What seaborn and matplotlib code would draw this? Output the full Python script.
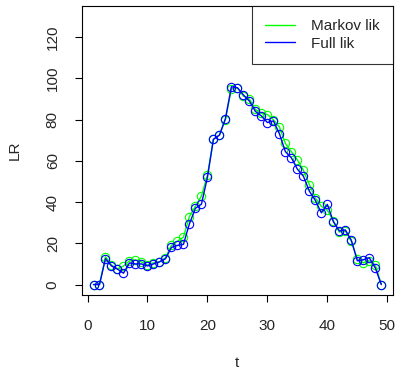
import numpy as np
import pandas as pd
import matplotlib
matplotlib.use("Agg")
import matplotlib.pyplot as plt
from matplotlib.lines import Line2D
import seaborn as sns

# time points
t = list(range(1, 50))

# likelihood ratio, Markov likelihood (green)
markov_lik = [0, 0, 13.5, 9.5, 7.5, 9, 11.5, 12, 11, 9.5,
              10.5, 11, 13, 19, 21, 23, 33, 38, 43, 53,
              70.5, 72.5, 80, 95, 95.5, 91.5, 90, 85, 83, 82.5,
              80, 76.5, 68.5, 64.5, 60.5, 55.5, 48.5, 42, 38, 36,
              31, 25.5, 26, 21, 12.5, 10.5, 11.5, 9.5, 0]

# likelihood ratio, full likelihood (blue)
full_lik = [0, 0, 12.6, 9, 7.5, 5.5, 10.5, 10, 10, 9,
            10, 11, 12.5, 18, 19, 19.5, 29.5, 37, 39, 52,
            70.5, 72.5, 80.5, 96, 95.5, 92, 89, 84, 81.8, 78.6,
            79.4, 73.2, 64.5, 61.5, 56, 52.6, 45.3, 40.8, 34.8, 38.9,
            30.5, 26, 26.5, 21.5, 11.5, 12, 13, 8, 0]

df = pd.DataFrame({"t": t, "markov": markov_lik, "full": full_lik})

sns.set_style("ticks")
plt.rcParams["font.family"] = ["Liberation Sans", "DejaVu Sans"]
plt.rcParams["font.size"] = 11

fig = plt.figure(figsize=(3.98, 3.70), dpi=100)
ax = fig.add_axes([0.206, 0.202, 0.781, 0.782])

for col, colour in [("markov", "#00FF00"), ("full", "#0000FF")]:
    sns.lineplot(data=df, x="t", y=col, color=colour, linewidth=1,
                 marker="o", markersize=6, markerfacecolor="none",
                 markeredgecolor=colour, markeredgewidth=0.8, ax=ax)

ax.set_xlim(-0.92, 50.92)
ax.set_ylim(-5.2, 135.2)
ax.set_xticks([0, 10, 20, 30, 40, 50])
ax.set_yticks([0, 20, 40, 60, 80, 100, 120])
ax.set_yticklabels([0, 20, 40, 60, 80, 100, 120], rotation=90, va="center")
ax.tick_params(axis="both", direction="out", length=5, width=0.8,
               labelsize=11, color="black")
ax.tick_params(axis="x", pad=12)
ax.tick_params(axis="y", pad=11)
for s in ax.spines.values():
    s.set_visible(True)
    s.set_linewidth(0.8)
    s.set_color("black")
ax.set_xlabel("t", fontsize=11, labelpad=17)
ax.set_ylabel("LR", fontsize=11, labelpad=17)

handles = [Line2D([], [], color="#00FF00", lw=1),
           Line2D([], [], color="#0000FF", lw=1)]
leg = ax.legend(handles, ["Markov lik", "Full lik"], loc="upper right",
                frameon=True, fancybox=False, borderaxespad=0,
                handlelength=2.0, handletextpad=1.05, borderpad=0.85,
                labelspacing=0.25, fontsize=11)
leg.get_frame().set_edgecolor("black")
leg.get_frame().set_linewidth(0.8)

fig.savefig("out.png", dpi=100)
